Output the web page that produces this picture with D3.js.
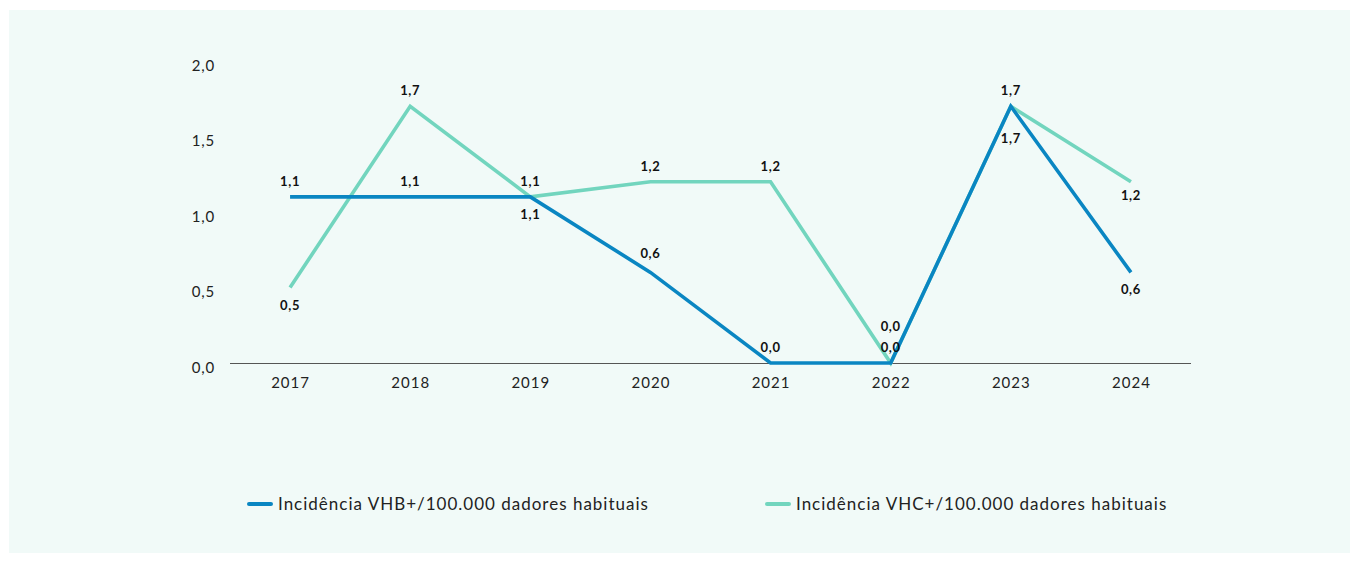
<!DOCTYPE html>
<html>
<head>
<meta charset="utf-8">
<script src="https://cdn.jsdelivr.net/npm/d3@7"></script>
<style>
  html, body { margin: 0; padding: 0; background: #ffffff; }
  svg { display: block; font-family: Lato, "Open Sans", sans-serif; }
</style>
</head>
<body>
<svg id="chart" width="1358" height="563"></svg>
<script>
// Incidence of HBV+ and HCV+ per 100,000 regular donors
const years = ["2017", "2018", "2019", "2020", "2021", "2022", "2023", "2024"];
const vhb = [1.1, 1.1, 1.1, 0.6, 0.0, 0.0, 1.7, 0.6];
const vhc = [0.5, 1.7, 1.1, 1.2, 1.2, 0.0, 1.7, 1.2];
const yTicks = [0, 0.5, 1.0, 1.5, 2.0];
const seriesNames = [
  "Incidência VHB+/100.000 dadores habituais",
  "Incidência VHC+/100.000 dadores habituais"
];
// label placement per point: above (-1) or below (+1) the line, plus nudges
const vhbLabelSide = [-1, -1, 1, -1, -1, -1, 1, 1];
const vhcLabelSide = [1, -1, -1, -1, -1, -1, -1, 1];
const vhbLabelNudge = [0, 0, 0, -3, 0, 0, 15, 0];
const vhcLabelNudge = [0, 0, 0, 0, 0, -21, 0, -4];

const colors = { vhb: "#0a86c2", vhc: "#72d5be" };
const fmt = v => d3.format(".1f")(v).replace(".", ",");

const svg = d3.select("#chart");

// background panel
svg.append("rect")
  .attr("x", 9).attr("y", 10)
  .attr("width", 1341).attr("height", 543)
  .attr("fill", "#f1faf8");

const x = d3.scalePoint().domain(years).range([230, 1191]).padding(0.5);
const y = d3.scaleLinear().domain([0, 2]).range([363, 61]);

// y axis tick labels (no axis line)
const yAxis = svg.append("g")
  .attr("transform", "translate(215,0)")
  .call(d3.axisLeft(y).tickValues(yTicks).tickFormat(fmt).tickSize(0).tickPadding(0));
yAxis.select(".domain").remove();
yAxis.selectAll("text")
  .attr("dy", "0.6em")
  .attr("font-size", 15)
  .attr("letter-spacing", 0.8)
  .attr("fill", "#222")
  .style("font-family", "Lato, sans-serif");

// x axis
const xAxis = svg.append("g")
  .attr("transform", `translate(0,${y(0)})`)
  .call(d3.axisBottom(x).tickSize(0).tickPadding(14));
xAxis.select(".domain")
  .attr("stroke", "#555")
  .attr("stroke-width", 1)
  .attr("d", "M230,0.5H1191");
xAxis.selectAll("text")
  .attr("font-size", 15)
  .attr("letter-spacing", 1)
  .attr("fill", "#222")
  .style("font-family", "Lato, sans-serif");

const line = d3.line()
  .x((d, i) => x(years[i]))
  .y(d => y(d));

// VHC first, VHB on top
svg.append("path")
  .datum(vhc)
  .attr("fill", "none")
  .attr("stroke", colors.vhc)
  .attr("stroke-width", 3.6)
  .attr("stroke-linejoin", "miter")
  .attr("d", line);

svg.append("path")
  .datum(vhb)
  .attr("fill", "none")
  .attr("stroke", colors.vhb)
  .attr("stroke-width", 3.6)
  .attr("stroke-linejoin", "miter")
  .attr("d", line);

function addLabels(values, sides, nudge) {
  svg.append("g").selectAll("text")
    .data(values)
    .join("text")
    .attr("x", (d, i) => x(years[i]))
    .attr("y", (d, i) => y(d) + (sides[i] < 0 ? -11 : 22) + nudge[i])
    .attr("text-anchor", "middle")
    .attr("font-size", 13)
    .attr("font-weight", "bold")
    .attr("letter-spacing", 0.6)
    .attr("fill", "#111")
    .text(d => fmt(d));
}
addLabels(vhb, vhbLabelSide, vhbLabelNudge);
addLabels(vhc, vhcLabelSide, vhcLabelNudge);

// legend
const legend = [
  { name: seriesNames[0], color: colors.vhb, x: 249 },
  { name: seriesNames[1], color: colors.vhc, x: 767 }
];
const lg = svg.append("g").selectAll("g")
  .data(legend)
  .join("g")
  .attr("transform", d => `translate(${d.x},504)`);
lg.append("line")
  .attr("x1", 0).attr("x2", 22)
  .attr("stroke", d => d.color)
  .attr("stroke-width", 4)
  .attr("stroke-linecap", "round");
lg.append("text")
  .attr("x", 29)
  .attr("dy", "0.35em")
  .attr("font-size", 17)
  .attr("letter-spacing", 1)
  .attr("fill", "#222")
  .text(d => d.name);
</script>
</body>
</html>
